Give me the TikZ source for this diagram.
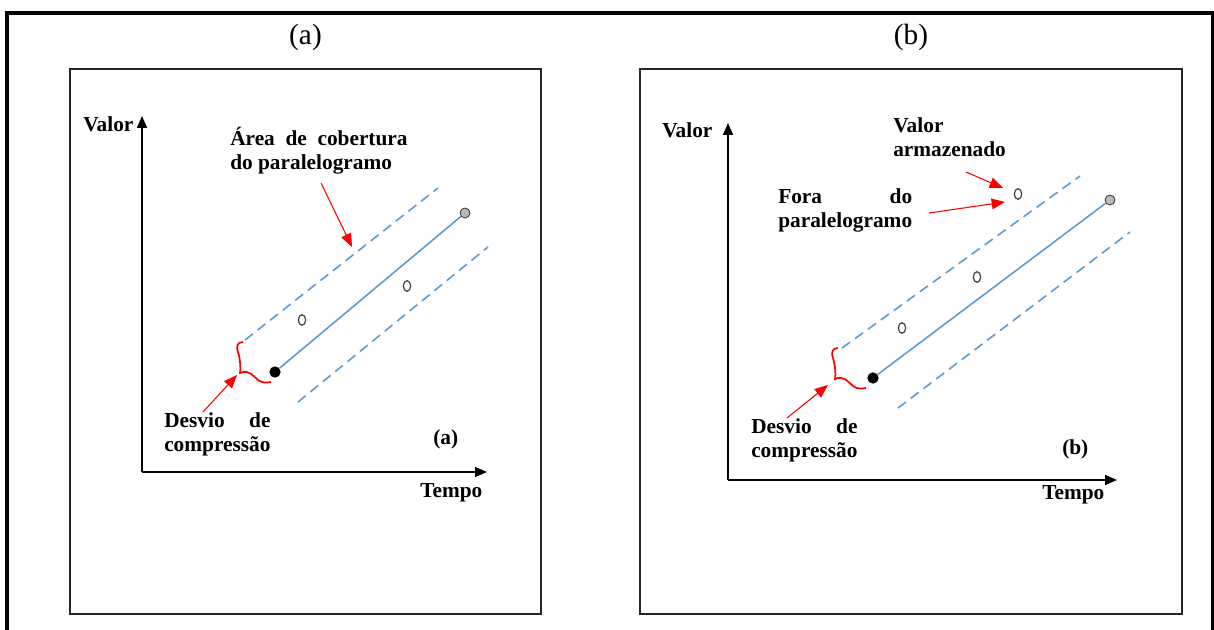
\documentclass[tikz,border=0pt]{standalone}
\usepackage{fontspec}
\setmainfont{Liberation Serif}
\usepackage{calc}
\usetikzlibrary{positioning,arrows.meta,shapes.geometric}
\definecolor{trendblue}{RGB}{91,155,213}
\tikzset{
  outerframe/.style={line width=2.3pt,black},
  panelframe/.style={line width=1.2pt,black!85},
  axis/.style={-{Triangle[length=9pt,width=7.5pt]},line width=1.1pt},
  trend/.style={trendblue,line width=1.2pt},
  band/.style={trendblue,line width=1.2pt,dash pattern=on 7.5pt off 4.5pt},
  callout/.style={-{Triangle[length=10pt,width=8pt]},red,line width=0.8pt},
  bracecurve/.style={red,line width=1.3pt},
  lbl/.style={font=\fontsize{16}{18}\selectfont\bfseries,inner sep=0pt,align=left},
  title/.style={font=\fontsize{22}{26}\selectfont,inner sep=0pt},
  firstpt/.style={circle,fill=black,inner sep=0pt,minimum size=8.5pt},
  lastpt/.style={circle,fill=gray!55,draw=gray!40!black,line width=0.6pt,inner sep=0pt,minimum size=7.5pt},
  sample/.style={ellipse,draw=black!75,line width=0.9pt,inner sep=0pt,minimum width=5.5pt,minimum height=8pt},
  devbrace/.pic={
    \draw[bracecurve] (0,0) .. controls (-6,0) and (-7,5) .. (-5,10)
      .. controls (-3,16) and (-2,26) .. (-3,31)
      .. controls (6,27) and (10,34) .. (15,38)
      .. controls (19,41) and (24,41) .. (28,40);
  },
}
\newcommand{\spread}[2]{\makebox[\widthof{#1}][s]{#2}}

\begin{document}
\begin{tikzpicture}[x=0.75pt,y=-0.75pt]
  \useasboundingbox (0,0) rectangle (1214,630);
  \draw[outerframe] (7,632) -- (7,13) -- (1212.5,13) -- (1212.5,632);

  % panel (a)
  \draw[panelframe] (70,69) rectangle (541,614);
  \node[title,anchor=base] (titleA) at (305.5,45) {(a)};
  \coordinate (originA) at (142,472);
  \coordinate (ytopA) at (142,116);
  \coordinate (xendA) at (487,472);
  \draw[axis] (originA) -- (ytopA);
  \draw[axis] (originA) -- (xendA);
  \node[lbl,anchor=base west] (valorA) at (83,132) {Valor};
  \node[lbl,anchor=base west] (tempoA) at (420,498) {Tempo};
  % two-line labels sit on the baseline of their last line
  \node[lbl,anchor=base west] (areaA) at (230,170)
        {\makebox[133pt][s]{Área de cobertura}\\do paralelogramo};
  \node[lbl,anchor=base west] (desvioA) at (164,452)
        {\spread{compressão}{Desvio de}\\compressão};
  \node[lbl,anchor=base west] (tagA) at (433,445) {(a)};

  \coordinate (bandtopA1) at (245,340);
  \coordinate (bandtopA2) at (438,188);
  \coordinate (bandlowA1) at (298,402);
  \coordinate (bandlowA2) at (488,247);
  \draw[band] (bandtopA1) -- (bandtopA2);
  \draw[band] (bandlowA1) -- (bandlowA2);
  \node[firstpt] (startA) at (275,372) {};
  \node[lastpt] (endA) at (465,213) {};
  \draw[trend] (startA) -- (endA);
  \node[sample] (sampleA1) at (302,320) {};
  \node[sample] (sampleA2) at (407,286) {};
  \pic at (243,342) {devbrace};

  \coordinate (areatailA) at (321,183);
  \coordinate (areatipA) at (352,247);
  \draw[callout] (areatailA) -- (areatipA);
  \coordinate (desviotailA) at (203,412);
  \coordinate (desviotipA) at (237,375);
  \draw[callout] (desviotailA) -- (desviotipA);

  % panel (b)
  \draw[panelframe] (640,69) rectangle (1182,614);
  \node[title,anchor=base] (titleB) at (911,45) {(b)};
  \coordinate (originB) at (728,480);
  \coordinate (ytopB) at (728,123);
  \coordinate (xendB) at (1117,480);
  \draw[axis] (originB) -- (ytopB);
  \draw[axis] (originB) -- (xendB);
  \node[lbl,anchor=base west] (valorB) at (662,138) {Valor};
  \node[lbl,anchor=base west] (tempoB) at (1042,500) {Tempo};
  \node[lbl,anchor=base west] (storedB) at (893,157) {Valor\\armazenado};
  \node[lbl,anchor=base west] (foraB) at (778,228)
        {\spread{paralelogramo}{Fora do}\\paralelogramo};
  \node[lbl,anchor=base west] (desvioB) at (751,458)
        {\spread{compressão}{Desvio de}\\compressão};
  \node[lbl,anchor=base west] (tagB) at (1062,455) {(b)};

  \coordinate (bandtopB1) at (842,348);
  \coordinate (bandtopB2) at (1080,176);
  \coordinate (bandlowB1) at (898,408);
  \coordinate (bandlowB2) at (1130,232);
  \draw[band] (bandtopB1) -- (bandtopB2);
  \draw[band] (bandlowB1) -- (bandlowB2);
  \node[firstpt] (startB) at (873,378) {};
  \node[lastpt] (endB) at (1110,200) {};
  \draw[trend] (startB) -- (endB);
  \node[sample] (sampleB1) at (902,328) {};
  \node[sample] (sampleB2) at (977,277) {};
  \node[sample] (outlierB) at (1018,194) {};
  \pic at (838,348) {devbrace};

  \coordinate (storedtailB) at (966,172);
  \coordinate (storedtipB) at (1003,188);
  \draw[callout] (storedtailB) -- (storedtipB);
  \coordinate (foratailB) at (929,213);
  \coordinate (foratipB) at (1005,202);
  \draw[callout] (foratailB) -- (foratipB);
  \coordinate (desviotailB) at (787,418);
  \coordinate (desviotipB) at (828,385);
  \draw[callout] (desviotailB) -- (desviotipB);
\end{tikzpicture}
\end{document}
